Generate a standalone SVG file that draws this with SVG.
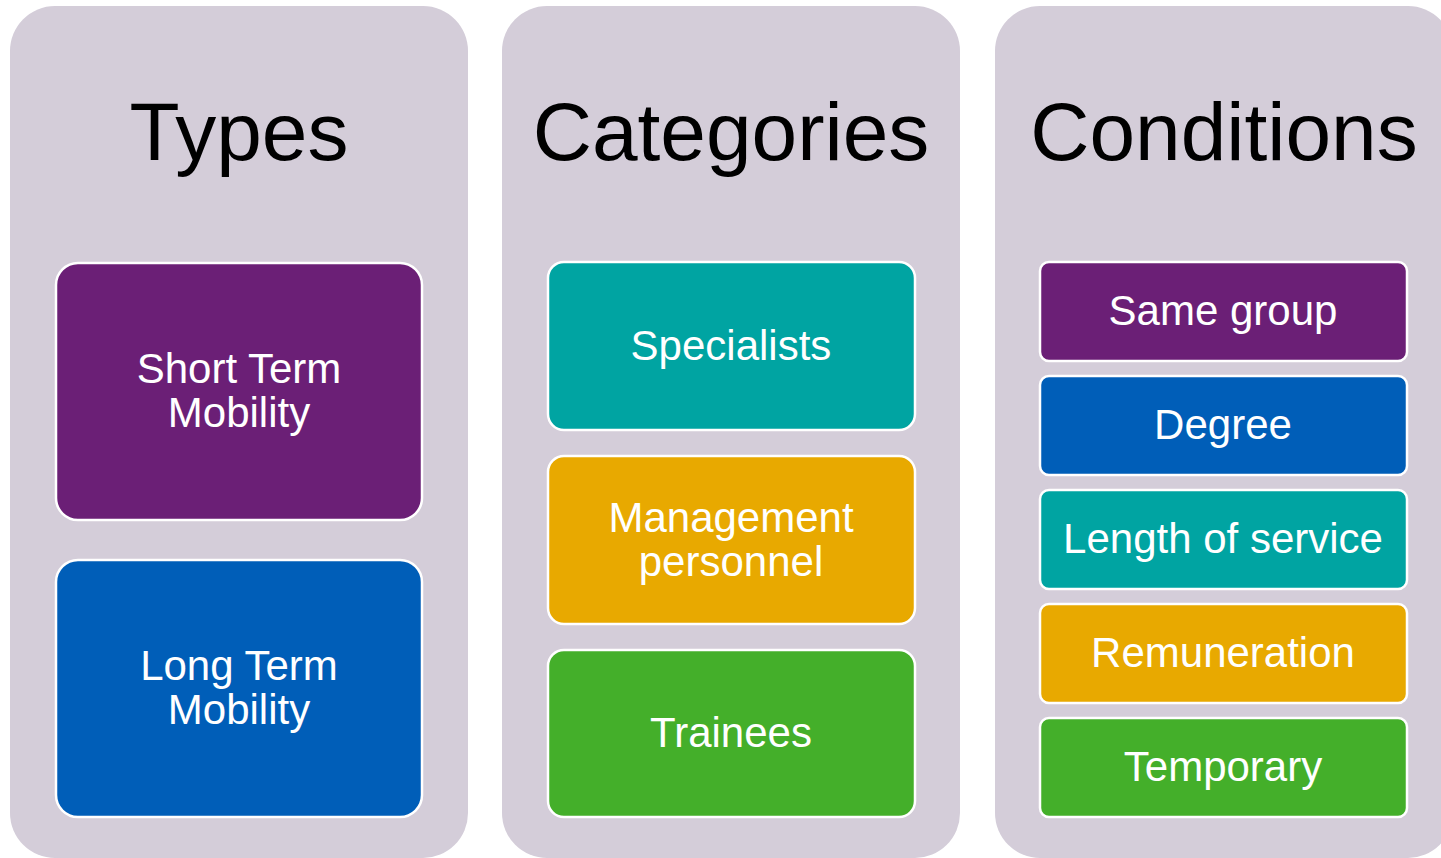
<svg xmlns="http://www.w3.org/2000/svg" width="1441" height="858" viewBox="0 0 1441 858">
<style>
.panel{fill:#D4CDD9}
.title{font-family:"Liberation Sans",Arial,sans-serif;font-size:82px;fill:#000;text-anchor:middle}
.box{stroke:#FFFFFF;stroke-width:2.5}
.lbl{font-family:"Liberation Sans",Arial,sans-serif;font-size:42px;fill:#FFFFFF;text-anchor:middle}
.purple{fill:#6B1F76}
.blue{fill:#005EB8}
.teal{fill:#00A4A2}
.orange{fill:#E8A900}
.green{fill:#44AF2A}
</style>
<rect width="1441" height="858" fill="#FFFFFF"/>
<g id="panel-types">
<rect class="panel" x="10" y="6" width="458" height="852" rx="45"/>
<text class="title" x="239" y="160">Types</text>
</g>
<g id="panel-categories">
<rect class="panel" x="502" y="6" width="458" height="852" rx="45"/>
<text class="title" x="731" y="160">Categories</text>
</g>
<g id="panel-conditions">
<rect class="panel" x="995" y="6" width="458" height="852" rx="45"/>
<text class="title" x="1224" y="160">Conditions</text>
</g>
<g id="node-short-term">
<rect class="box purple" x="56" y="263" width="366" height="257" rx="22"/>
<text class="lbl" x="239" y="383">Short Term</text>
<text class="lbl" x="239" y="427">Mobility</text>
</g>
<g id="node-long-term">
<rect class="box blue" x="56" y="560" width="366" height="257" rx="22"/>
<text class="lbl" x="239" y="680">Long Term</text>
<text class="lbl" x="239" y="724">Mobility</text>
</g>
<g id="node-specialists">
<rect class="box teal" x="548" y="262" width="367" height="168" rx="16"/>
<text class="lbl" x="731" y="360">Specialists</text>
</g>
<g id="node-management">
<rect class="box orange" x="548" y="456" width="367" height="168" rx="16"/>
<text class="lbl" x="731" y="532">Management</text>
<text class="lbl" x="731" y="576">personnel</text>
</g>
<g id="node-trainees">
<rect class="box green" x="548" y="650" width="367" height="167" rx="16"/>
<text class="lbl" x="731" y="747">Trainees</text>
</g>
<g id="node-same-group">
<rect class="box purple" x="1040" y="262" width="367" height="99" rx="9"/>
<text class="lbl" x="1223" y="325">Same group</text>
</g>
<g id="node-degree">
<rect class="box blue" x="1040" y="376" width="367" height="99" rx="9"/>
<text class="lbl" x="1223" y="439">Degree</text>
</g>
<g id="node-length">
<rect class="box teal" x="1040" y="490" width="367" height="99" rx="9"/>
<text class="lbl" x="1223" y="553">Length of service</text>
</g>
<g id="node-remuneration">
<rect class="box orange" x="1040" y="604" width="367" height="99" rx="9"/>
<text class="lbl" x="1223" y="667">Remuneration</text>
</g>
<g id="node-temporary">
<rect class="box green" x="1040" y="718" width="367" height="99" rx="9"/>
<text class="lbl" x="1223" y="781">Temporary</text>
</g>
<g id="connectors"></g>
</svg>
